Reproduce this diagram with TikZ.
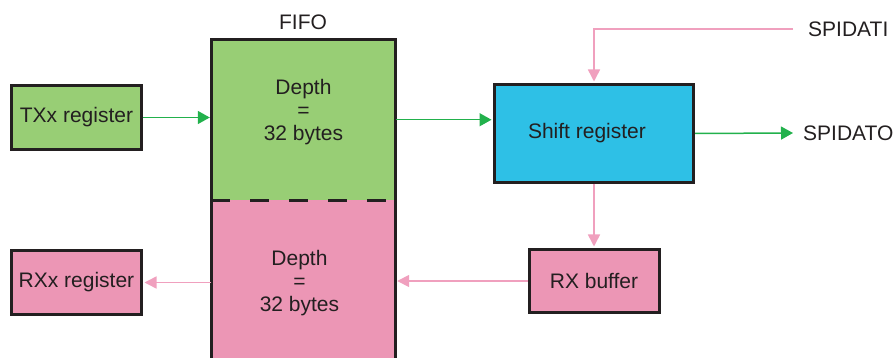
\documentclass[tikz,border=0pt]{standalone}
\usepackage{fontspec}
\setmainfont{Liberation Sans}
\usepackage{tikz}
\usetikzlibrary{arrows.meta,positioning,calc}

\definecolor{txgreen}{RGB}{152,206,117}
\definecolor{rxpink}{RGB}{236,150,181}
\definecolor{shiftblue}{RGB}{46,192,230}
\definecolor{linegreen}{RGB}{34,177,76}
\definecolor{linepink}{RGB}{240,160,190}
\definecolor{edgegray}{RGB}{35,31,32}

\begin{document}
\begin{tikzpicture}[
  x=1pt, y=-1pt,
  every node/.style={font=\fontsize{21}{23}\selectfont, text=edgegray},
  block/.style={draw=edgegray, line width=3pt, inner sep=0pt, align=center},
  fifopart/.style={inner sep=0pt, minimum width=184pt},
  depthlbl/.style={align=center, inner sep=0pt},
  txarr/.style={-{Triangle[length=12pt, width=13pt]}, line width=1.5pt, draw=linegreen, shorten >=1.5pt},
  rxarr/.style={-{Triangle[length=12pt, width=12pt]}, line width=1.5pt, draw=linepink, shorten >=1.5pt},
]
\useasboundingbox (0,0) rectangle (895,358);

% Registers on the left
\node[block, fill=txgreen, minimum width=130pt, minimum height=64pt] (txreg) at (76.5,117.5) {TXx register};
\node[block, fill=rxpink, minimum width=130pt, minimum height=64pt] (rxreg) at (76.5,282.5) {RXx register};

% FIFO
\node[fifopart, fill=txgreen, minimum height=160.5pt] (fifotop) at (303.5,119.75) {};
\node[fifopart, fill=rxpink, minimum height=158pt] (fifobot) at (303.5,279) {};
\draw[edgegray, line width=3pt] (fifobot.south west) |- (fifotop.north east) -- (fifobot.south east);
\draw[edgegray, line width=3pt, dash pattern=on 19pt off 20pt] (fifotop.south west) -- (fifotop.south east);
\node[depthlbl] (depthtop) at ([yshift=8pt]fifotop.center) {Depth\\=\\32 bytes};
\node[depthlbl] (depthbot) at ([xshift=-4pt,yshift=-4pt]fifobot.center) {Depth\\=\\32 bytes};
\node (fifo) at (303,22) {FIFO};

% Shift register and RX buffer
\node[block, fill=shiftblue, minimum width=199pt, minimum height=98pt] (shiftreg) at (594,133.5) {\hspace*{-14pt}Shift register};
\node[block, fill=rxpink, minimum width=130pt, minimum height=63pt] (rxbuf) at (594,281) {RX buffer};

% Pins
\node[anchor=west, inner xsep=15pt] (spidati) at (793,29) {SPIDATI};
\node[anchor=west, inner xsep=10pt] (spidato) at (793,133) {SPIDATO};

% Transmit path
\draw[txarr] (txreg.east) -- (txreg.east -| fifotop.west);
\draw[txarr] (fifotop.east) -- (fifotop.east -| shiftreg.west);
\draw[txarr, shorten >=0pt] (shiftreg.east) -- (spidato.west);

% Receive path
\draw[rxarr] (spidati.west) -| (shiftreg.north);
\draw[rxarr] (shiftreg.south) -- (shiftreg.south |- rxbuf.north);
\draw[rxarr] (rxbuf.west) -- (rxbuf.west -| fifobot.east);
\draw[rxarr] (rxreg.east -| fifobot.west) -- (rxreg.east);

\end{tikzpicture}
\end{document}
